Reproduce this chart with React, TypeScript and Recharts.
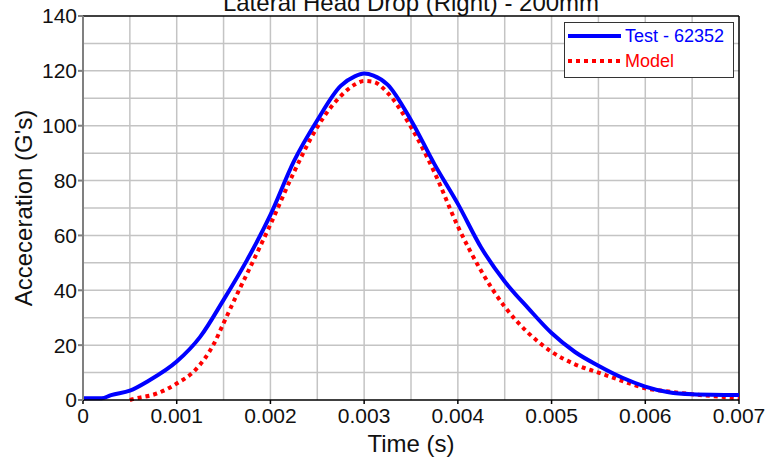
import {
    LineChart,
    Line,
    XAxis,
    YAxis,
    CartesianGrid,
    ReferenceLine,
    Label,
} from "recharts";

const testTimes = [
    0, 0.0002, 0.0003, 0.0005, 0.0007, 0.001, 0.00125, 0.0015, 0.00175, 0.002,
    0.00225, 0.0025, 0.00275, 0.0029, 0.003, 0.0031, 0.00325, 0.0035, 0.00375,
    0.004, 0.00425, 0.0045, 0.00475, 0.005, 0.00525, 0.0055, 0.00575, 0.006,
    0.00625, 0.0065, 0.007,
];
const testValues = [
    0.6, 0.6, 1.8, 3.4, 7, 14, 23, 36.5, 51, 67.5,
    87, 102, 114.5, 118, 119, 118.3, 115, 102, 86,
    71.5, 55.5, 43.2, 33.5, 24.4, 17.5, 12.5, 8.2, 4.9,
    2.8, 2.1, 1.8,
];

const modelTimes = [
    0.0005, 0.00053, 0.0008, 0.001, 0.0012, 0.0014, 0.0015, 0.00165, 0.00175,
    0.002, 0.00225, 0.0025, 0.00275, 0.0029, 0.003, 0.0031, 0.00325, 0.0035,
    0.00375, 0.004, 0.00425, 0.0045, 0.00475, 0.005, 0.00525, 0.0055, 0.00575,
    0.006, 0.00625, 0.0065, 0.0068, 0.007,
];
const modelValues = [
    0, 0.3, 2.5, 6, 11, 20.7, 28, 39, 46,
    64, 83, 99.5, 110.8, 115, 116.3, 116, 112, 99.5,
    83, 63.3, 47, 34, 24.5, 17.6, 13, 10, 7,
    4.3, 3.1, 2.1, 1.2, 0.6,
];

const xTicks = [0, 0.001, 0.002, 0.003, 0.004, 0.005, 0.006, 0.007];
const yTicks = [0, 20, 40, 60, 80, 100, 120, 140];
const xGrid = [0.0005, 0.001, 0.0015, 0.002, 0.0025, 0.003, 0.0035, 0.004, 0.0045, 0.005, 0.0055, 0.006, 0.0065];
const yGrid = [10, 20, 30, 40, 50, 60, 70, 80, 90, 100, 110, 120, 130];

const testData = testTimes.map((t, i) => ({ t, v: testValues[i] }));
const modelData = modelTimes.map((t, i) => ({ t, v: modelValues[i] }));

const font = "Arial, 'Liberation Sans', sans-serif";

export default function App() {
    return (
        <div
            style={{
                position: "absolute",
                top: 0,
                left: 0,
                width: 767,
                height: 458,
                background: "#fff",
                fontFamily: font,
                overflow: "hidden",
            }}
        >
            <svg
                width={767}
                height={30}
                style={{ position: "absolute", top: 0, left: 0 }}
            >
                <text
                    x={411}
                    y={11}
                    textAnchor="middle"
                    fontSize={24}
                    fontFamily={font}
                    fill="#111"
                >
                    Lateral Head Drop (Right) - 200mm
                </text>
            </svg>

            <LineChart
                width={767}
                height={458}
                margin={{ top: 16, right: 28, bottom: 0, left: 0 }}
                style={{ position: "absolute", top: 0, left: 0 }}
            >
                <CartesianGrid
                    stroke="#c4c4c4"
                    strokeWidth={1.5}
                    verticalValues={xGrid}
                    horizontalValues={yGrid}
                />

                <XAxis
                    dataKey="t"
                    type="number"
                    domain={[0, 0.007]}
                    ticks={xTicks}
                    allowDuplicatedCategory={false}
                    height={58}
                    tickSize={4}
                    tickMargin={4}
                    stroke="#000"
                    strokeWidth={1.5}
                    tick={{ fill: "#111", fontSize: 21, fontFamily: font }}
                    tickFormatter={(v) => (v === 0 ? "0" : Number(v).toFixed(3))}
                    interval={0}
                >
                    <Label
                        value="Time (s)"
                        position="insideBottom"
                        offset={6}
                        style={{ fontSize: 24, fill: "#111", fontFamily: font }}
                    />
                </XAxis>

                <YAxis
                    dataKey="v"
                    type="number"
                    domain={[0, 140]}
                    ticks={yTicks}
                    width={83}
                    tickSize={5}
                    tickMargin={1}
                    stroke="#808080"
                    strokeWidth={2}
                    tick={{ fill: "#111", fontSize: 21, fontFamily: font }}
                    interval={0}
                >
                    <Label
                        value="Acceceration (G's)"
                        angle={-90}
                        position="insideLeft"
                        offset={23}
                        style={{
                            fontSize: 24,
                            fill: "#111",
                            fontFamily: font,
                            textAnchor: "middle",
                        }}
                    />
                </YAxis>

                <ReferenceLine y={140} stroke="#000" strokeWidth={1.5} />
                <ReferenceLine x={0.007} stroke="#000" strokeWidth={1.5} />

                <Line
                    data={modelData}
                    dataKey="v"
                    type="monotone"
                    stroke="#ff0000"
                    strokeWidth={4}
                    strokeDasharray="4 4"
                    dot={false}
                    isAnimationActive={false}
                />
                <Line
                    data={testData}
                    dataKey="v"
                    type="monotone"
                    stroke="#0000ff"
                    strokeWidth={4}
                    dot={false}
                    isAnimationActive={false}
                />
            </LineChart>

            <div
                style={{
                    position: "absolute",
                    left: 564,
                    top: 22,
                    width: 168,
                    height: 54,
                    border: "1.5px solid #333",
                    background: "#fff",
                }}
            >
                <svg width={168} height={54}>
                    <line x1={3} y1={13} x2={56} y2={13} stroke="#0000ff" strokeWidth={4} />
                    <text x={60} y={13} dy="0.35em" fontSize={18} fontFamily={font} fill="#0000ff">
                        Test - 62352
                    </text>
                    <line
                        x1={3}
                        y1={38}
                        x2={56}
                        y2={38}
                        stroke="#ff0000"
                        strokeWidth={4}
                        strokeDasharray="4 4"
                    />
                    <text x={60} y={38} dy="0.35em" fontSize={18} fontFamily={font} fill="#ff0000">
                        Model
                    </text>
                </svg>
            </div>
        </div>
    );
}
